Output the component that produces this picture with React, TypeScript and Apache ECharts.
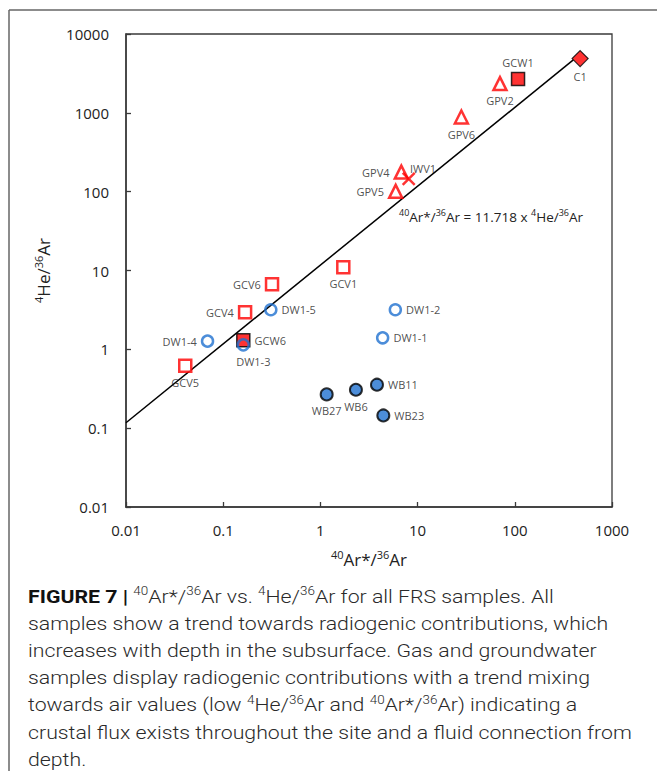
import React, { useEffect, useRef } from "react";
import * as echarts from "echarts";

// ---- data ----
const gasVentSquareNames = ["GCV1", "GCV6", "GCV4", "GCV5"];
const gasVentSquareAr = [1.72, 0.318, 0.168, 0.0407];
const gasVentSquareHe = [11.0, 6.67, 2.96, 0.62];
const gasVentSquarePos = ["bottom", "left", "left", "bottom"];

const wellSquareNames = ["GCW1", "GCW6"];
const wellSquareAr = [108, 0.161];
const wellSquareHe = [2685, 1.3];
const wellSquarePos = ["top", "right"];

const triangleNames = ["GPV2", "GPV6", "GPV4", "GPV5"];
const triangleAr = [70.4, 28.2, 6.8, 5.95];
const triangleHe = [2348, 885, 177, 101];
const trianglePos = ["bottom", "bottom", "left", "left"];

const crossNames = ["IWV1"];
const crossAr = [8.1];
const crossHe = [145];

const diamondNames = ["C1"];
const diamondAr = [470];
const diamondHe = [4875];

const dwNames = ["DW1-5", "DW1-4", "DW1-3", "DW1-2", "DW1-1"];
const dwAr = [0.309, 0.069, 0.161, 5.9, 4.37];
const dwHe = [3.18, 1.27, 1.14, 3.18, 1.4];
const dwPos = ["right", "left", "bottom", "right", "right"];

const wbNames = ["WB27", "WB6", "WB11", "WB23"];
const wbAr = [1.16, 2.32, 3.82, 4.44];
const wbHe = [0.268, 0.307, 0.356, 0.145];
const wbPos = ["bottom", "bottom", "right", "right"];

const mixingLineAr = [0.01, 400];
const mixingSlope = 11.718;

const captionLines = [
  "{b|FIGURE 7 |} {s|40}Ar*/{s|36}Ar vs. {s|4}He/{s|36}Ar for all FRS samples. All",
  "samples show a trend towards radiogenic contributions, which",
  "increases with depth in the subsurface. Gas and groundwater",
  "samples display radiogenic contributions with a trend mixing",
  "towards air values (low {s|4}He/{s|36}Ar and {s|40}Ar*/{s|36}Ar) indicating a",
  "crustal flux exists throughout the site and a fluid connection from",
  "depth.",
];

const RED = "#ff0000";
const BLUE = "#1f70cf";
const AXIS = "#3a3a3a";
const FONT = "'Open Sans', sans-serif";
const CAP = "#2a2a2a";

function pts(names: string[], ar: number[], he: number[], pos?: string[]) {
  return names.map((n, i) => ({
    name: n,
    value: [ar[i], he[i]],
    label: { position: pos ? pos[i] : "right" },
  }));
}

const labelStyle = {
  show: true,
  formatter: "{b}",
  fontFamily: FONT,
  fontSize: 11,
  color: "#222",
  distance: 4,
};

const fmt = (v: number) => String(parseFloat(v.toPrecision(4)));

export default function App() {
  const ref = useRef<HTMLDivElement>(null);
  useEffect(() => {
    document.body.style.margin = "0";
    const chart = echarts.init(ref.current!, null, { renderer: "svg" });
    const capRich = {
      b: { fontFamily: "Roboto", fontSize: 19, fontWeight: "bold", fill: "#111", lineHeight: 22 },
      s: { fontFamily: "Roboto", fontSize: 12, fontWeight: 300, fill: CAP, verticalAlign: "top", lineHeight: 12 },
    };
    const captionGraphics = captionLines.map((t, i) => ({
      type: "text",
      x: 28,
      y: 596 + i * 27.2,
      scaleX: 1.12,
      style: {
        text: t,
        x: 0,
        y: 0,
        verticalAlign: "middle",
        fontFamily: "Roboto",
        fontSize: 19,
        fontWeight: 300,
        fill: CAP,
        lineHeight: 22,
        rich: capRich,
      },
    }));
    chart.setOption({
      animation: false,
      backgroundColor: "#fff",
      grid: {
        left: 126,
        right: 45,
        top: 34,
        bottom: 264,
        show: true,
        borderColor: AXIS,
        borderWidth: 1.3,
      },
      xAxis: {
        type: "log",
        logBase: 10,
        min: 0.01,
        max: 1000,
        splitNumber: 5,
        name: "{s|40}Ar*/{s|36}Ar",
        nameLocation: "middle",
        nameGap: 42,
        nameTextStyle: {
          fontFamily: FONT,
          fontSize: 17,
          color: "#222",
          lineHeight: 20,
          rich: {
            s: { fontFamily: FONT, fontSize: 11, color: "#222", verticalAlign: "top", lineHeight: 11 },
          },
        },
        axisLine: { show: true, lineStyle: { color: AXIS, width: 1.5 } },
        axisTick: { show: true, inside: true, length: 5, lineStyle: { color: AXIS, width: 1.3 } },
        minorTick: { show: false },
        splitLine: { show: false },
        axisLabel: { fontFamily: FONT, fontSize: 15, color: "#222", margin: 15, formatter: fmt },
      },
      yAxis: {
        type: "log",
        logBase: 10,
        min: 0.01,
        max: 10000,
        splitNumber: 6,
        name: "{s|4}He/{s|36}Ar",
        nameLocation: "middle",
        nameRotate: 90,
        nameGap: 73,
        nameTextStyle: {
          fontFamily: FONT,
          fontSize: 17,
          color: "#222",
          lineHeight: 20,
          rich: {
            s: { fontFamily: FONT, fontSize: 11, color: "#222", verticalAlign: "top", lineHeight: 11 },
          },
        },
        axisLine: { show: true, lineStyle: { color: AXIS, width: 1.5 } },
        axisTick: { show: true, inside: true, length: 5, lineStyle: { color: AXIS, width: 1.3 } },
        splitLine: { show: false },
        axisLabel: { fontFamily: FONT, fontSize: 15, color: "#222", margin: 17, formatter: fmt },
      },
      graphic: [
        {
          type: "line",
          shape: { x1: 9, y1: 10, x2: 657, y2: 10 },
          style: { stroke: "#666", lineWidth: 1.5 },
        },
        {
          type: "line",
          shape: { x1: 9, y1: 10, x2: 9, y2: 771 },
          style: { stroke: "#666", lineWidth: 1.5 },
        },
        {
          type: "text",
          left: 399,
          top: 208,
          style: {
            text: "{s|40}Ar*/{s|36}Ar = 11.718 x {s|4}He/{s|36}Ar",
            fontFamily: FONT,
            fontSize: 13.5,
            fill: "#222",
            lineHeight: 18,
            rich: {
              s: { fontFamily: FONT, fontSize: 9, fill: "#222", verticalAlign: "top", lineHeight: 9 },
            },
          },
        },
        ...captionGraphics,
      ],
      series: [
        {
          type: "line",
          data: mixingLineAr.map((a) => [a, a * mixingSlope]),
          symbol: "none",
          lineStyle: { color: "#000", width: 1.5 },
          z: 1,
        },
        {
          type: "scatter",
          data: pts(gasVentSquareNames, gasVentSquareAr, gasVentSquareHe, gasVentSquarePos),
          symbol: "rect",
          symbolSize: 12,
          itemStyle: { color: "#fff", borderColor: RED, borderWidth: 2.5 },
          label: labelStyle,
          z: 3,
        },
        {
          type: "scatter",
          data: pts(wellSquareNames, wellSquareAr, wellSquareHe, wellSquarePos),
          symbol: "rect",
          symbolSize: 13,
          itemStyle: { color: RED, borderColor: "#000", borderWidth: 1.5 },
          label: labelStyle,
          z: 3,
        },
        {
          type: "scatter",
          data: pts(triangleNames, triangleAr, triangleHe, trianglePos),
          symbol: "triangle",
          symbolSize: 13,
          itemStyle: { color: "#fff", borderColor: RED, borderWidth: 2.5 },
          label: labelStyle,
          z: 3,
        },
        {
          type: "scatter",
          data: pts(crossNames, crossAr, crossHe).map((d) => ({
            ...d,
            label: { position: "right", offset: [-10, -10] },
          })),
          symbol: "path://M0,0 L10,10 M10,0 L0,10",
          symbolSize: 12,
          itemStyle: { color: "rgba(0,0,0,0)", borderColor: RED, borderWidth: 2.5 },
          label: labelStyle,
          z: 4,
        },
        {
          type: "scatter",
          data: pts(diamondNames, diamondAr, diamondHe, ["bottom"]),
          symbol: "diamond",
          symbolSize: 16,
          itemStyle: { color: RED, borderColor: "#000", borderWidth: 1.2 },
          label: labelStyle,
          z: 3,
        },
        {
          type: "scatter",
          data: pts(dwNames, dwAr, dwHe, dwPos).map((d) =>
            d.name === "DW1-3" ? { ...d, label: { position: "bottom", offset: [10, 0] } } : d
          ),
          symbol: "circle",
          symbolSize: 11,
          itemStyle: { color: "rgba(255,255,255,0)", borderColor: BLUE, borderWidth: 2.5 },
          label: labelStyle,
          z: 5,
        },
        {
          type: "scatter",
          data: pts(wbNames, wbAr, wbHe, wbPos),
          symbol: "circle",
          symbolSize: 12,
          itemStyle: { color: BLUE, borderColor: "#000", borderWidth: 2 },
          label: labelStyle,
          z: 3,
        },
      ],
    });
    return () => chart.dispose();
  }, []);
  return <div ref={ref} style={{ width: 657, height: 771 }} />;
}
